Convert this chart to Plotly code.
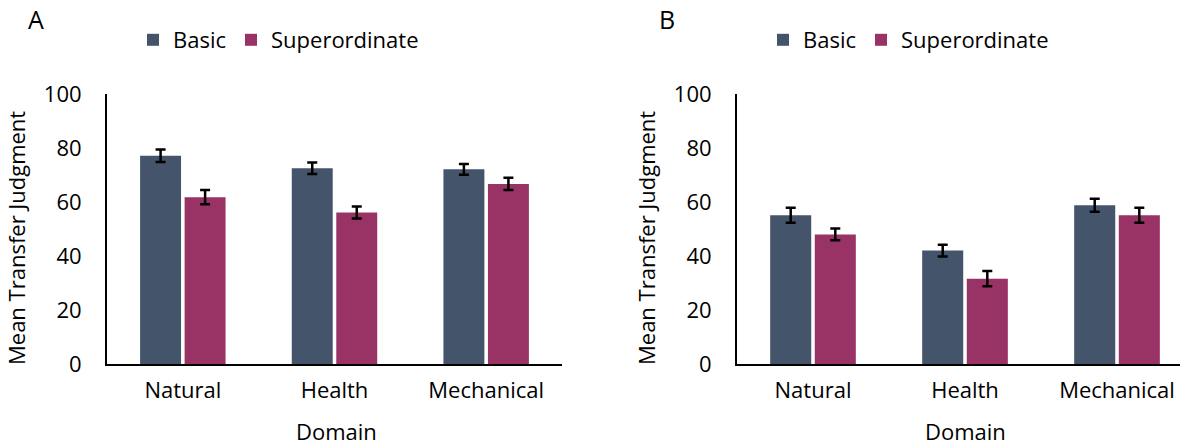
import plotly.graph_objects as go

categories = ["Natural", "Health", "Mechanical"]
series_names = ["Basic", "Superordinate"]

a_basic = [77.1, 72.5, 72.1]
a_basic_err = [2.3, 2.1, 2.0]
a_super = [61.8, 56.1, 66.7]
a_super_err = [2.6, 2.2, 2.3]

b_basic = [55.1, 42.0, 58.8]
b_basic_err = [2.8, 2.2, 2.4]
b_super = [48.0, 31.6, 55.1]
b_super_err = [2.2, 2.8, 2.8]

y_ticks = [0, 20, 40, 60, 80, 100]
panel_labels = ["A", "B"]
x_title = "Domain"
y_title = "Mean Transfer Judgment"

COL_BASIC = "#44546A"
COL_SUPER = "#993366"
FONT = "Open Sans"
FS = 22
OFF = 8  # page body margin
W, H = 1188 - OFF, 444 - OFF


def px_x(p):
    return (p - OFF) / W


def px_y(p):
    return 1 - (p - OFF) / H


fig = go.Figure()

panels = [
    (a_basic, a_basic_err, a_super, a_super_err, "x", "y", "legend"),
    (b_basic, b_basic_err, b_super, b_super_err, "x2", "y2", "legend2"),
]
for vb, eb, vs, es, xa, ya, lg in panels:
    for name, vals, errs, col in [
        (series_names[0], vb, eb, COL_BASIC),
        (series_names[1], vs, es, COL_SUPER),
    ]:
        fig.add_trace(go.Bar(
            x=categories, y=vals, name=name, xaxis=xa, yaxis=ya, legend=lg,
            marker=dict(color=col, line=dict(width=0)),
            error_y=dict(type="data", array=errs, visible=True,
                         color="black", thickness=2.5, width=5),
        ))

axis_common = dict(showgrid=False, zeroline=False, showline=True,
                   linecolor="black", linewidth=2, ticks="", automargin=False,
                   tickfont=dict(family=FONT, size=FS, color="black"))

ydom = [px_y(364), px_y(94)]
fig.update_layout(
    width=W, height=H,
    margin=dict(l=0, r=0, t=0, b=0, pad=0, autoexpand=False),
    paper_bgcolor="white", plot_bgcolor="white",
    barmode="group", bargap=0.413, bargroupgap=0.08,
    font=dict(family=FONT, size=FS, color="black"),
    xaxis=dict(domain=[px_x(107), px_x(562)], range=[-0.5, 2.5],
               anchor="y", ticklabelstandoff=6, **axis_common),
    yaxis=dict(domain=ydom, range=[0, 100], tickvals=y_ticks,
               anchor="x", ticklabelstandoff=19, **axis_common),
    xaxis2=dict(domain=[px_x(737), 1.0], range=[-0.5, 2.467],
                anchor="y2", ticklabelstandoff=6, **axis_common),
    yaxis2=dict(domain=ydom, range=[0, 100], tickvals=y_ticks,
                anchor="x2", ticklabelstandoff=19, **axis_common),
    legend=dict(orientation="h", x=px_x(133), y=px_y(40), xanchor="left",
                yanchor="middle", font=dict(family=FONT, size=FS),
                bgcolor="rgba(0,0,0,0)"),
    legend2=dict(orientation="h", x=px_x(763), y=px_y(40), xanchor="left",
                 yanchor="middle", font=dict(family=FONT, size=FS),
                 bgcolor="rgba(0,0,0,0)"),
)

ann = []
for lab, xp in zip(panel_labels, [36, 667]):
    ann.append(dict(text=lab, x=px_x(xp), y=px_y(19), xref="paper", yref="paper",
                    xanchor="center", yanchor="middle",
                    showarrow=False, font=dict(family=FONT, size=25)))
for xp in [336, 965]:
    ann.append(dict(text=x_title, x=px_x(xp), y=px_y(431), xref="paper", yref="paper",
                    xanchor="center", yanchor="middle",
                    showarrow=False, font=dict(family=FONT, size=FS)))
for xp in [16, 646]:
    ann.append(dict(text=y_title, x=px_x(xp), y=px_y(238), xref="paper", yref="paper",
                    xanchor="center", yanchor="middle",
                    showarrow=False, textangle=-90, font=dict(family=FONT, size=FS)))
fig.update_layout(annotations=ann)

fig.write_html("out.html")
